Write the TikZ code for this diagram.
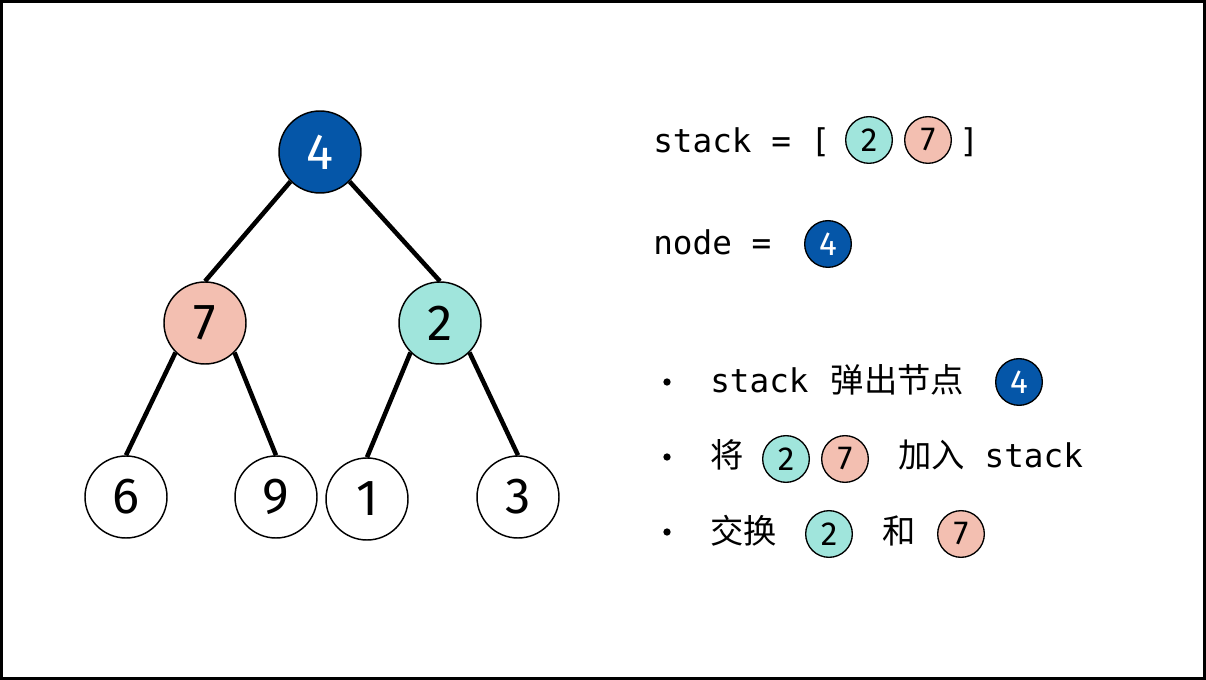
\documentclass[tikz,border=0pt]{standalone}
\usepackage{fontspec}
\usepackage{xcolor}
\usepackage{tikz}
\usetikzlibrary{positioning,calc}
\setmonofont{DejaVu Sans Mono}
\newfontfamily\cjkfont{Noto Sans CJK SC}
\newfontfamily\numfont{Fira Sans}
\definecolor{hpblue}{HTML}{0556A8}
\definecolor{hpteal}{HTML}{A0E5DC}
\definecolor{hpsalmon}{HTML}{F3BFB1}
\tikzset{
  treenode/.style={circle, draw=black, line width=1.1pt, fill=white, inner sep=0pt,
    minimum size=61.5pt, font=\numfont\fontsize{38}{38}\selectfont},
  ball/.style={circle, draw=black, line width=1pt, fill=white, inner sep=0pt,
    minimum size=35pt, font=\numfont\fontsize{25}{25}\selectfont},
  treeedge/.style={line width=3.4pt, draw=black},
  codetext/.style={anchor=base west, inner sep=0pt, font=\ttfamily\fontsize{24.5}{28}\selectfont},
  cjktext/.style={codetext, font=\cjkfont\fontsize{25}{28}\selectfont},
  bulletdot/.style={circle, fill=black, inner sep=0pt, minimum size=5.5pt}
}

\begin{document}
\begin{tikzpicture}[x=0.75pt, y=-0.75pt]
  \useasboundingbox (0,0) rectangle (1206,680);
  \draw[line width=2.25pt] (1.5,1.5) rectangle (1204.5,678.5);

  % tree
  \node[treenode, fill=hpblue, text=white] (n4) at (320,152) {4};
  \node[treenode, fill=hpsalmon] (n7) at (205,323) {7};
  \node[treenode, fill=hpteal] (n2) at (440,323) {2};
  \node[treenode] (n6) at (126,497) {6};
  \node[treenode] (n9) at (276,497) {9};
  \node[treenode] (n1) at (367,499) {1};
  \node[treenode] (n3) at (518,497) {3};

  \draw[treeedge] (n4.south west) -- (n7.north);
  \draw[treeedge] (n4.south east) -- (n2.north);
  \draw[treeedge] (n7.south west) -- (n6.north);
  \draw[treeedge] (n7.south east) -- (n9.north);
  \draw[treeedge] (n2.south west) -- (n1.north);
  \draw[treeedge] (n2.south east) -- (n3.north);

  % state
  \node[codetext] (stacktxt) at (653,153) {stack = [};
  \node[ball, fill=hpteal] (st2) at (869,140) {2};
  \node[ball, fill=hpsalmon] (st7) at (928,140) {7};
  \node[codetext] (stackend) at (959,153) {]};

  \node[codetext] (nodetxt) at (653,255) {node =};
  \node[ball, fill=hpblue, text=white] (cur4) at (828,244) {4};

  % steps
  \node[bulletdot] (b1) at (667,382) {};
  \node[bulletdot] (b2) at (667,457) {};
  \node[bulletdot] (b3) at (667,532) {};

  \node[codetext] (pop) at (710,393) {stack\hspace{2pt} {\cjkfont\fontsize{25}{28}\selectfont 弹出节点}};
  \node[ball, fill=hpblue, text=white] (pop4) at (1019,382) {4};

  \node[cjktext] (push) at (710,468) {将};
  \node[ball, fill=hpteal] (push2) at (786,459) {2};
  \node[ball, fill=hpsalmon] (push7) at (845,459) {7};
  \node[codetext] (pushtxt) at (898,468) {{\cjkfont\fontsize{25}{28}\selectfont 加入} stack};

  \node[cjktext] (swap) at (710,543) {交换};
  \node[ball, fill=hpteal] (swap2) at (829,534) {2};
  \node[cjktext] (and) at (882,543) {和};
  \node[ball, fill=hpsalmon] (swap7) at (961,534) {7};
\end{tikzpicture}
\end{document}
